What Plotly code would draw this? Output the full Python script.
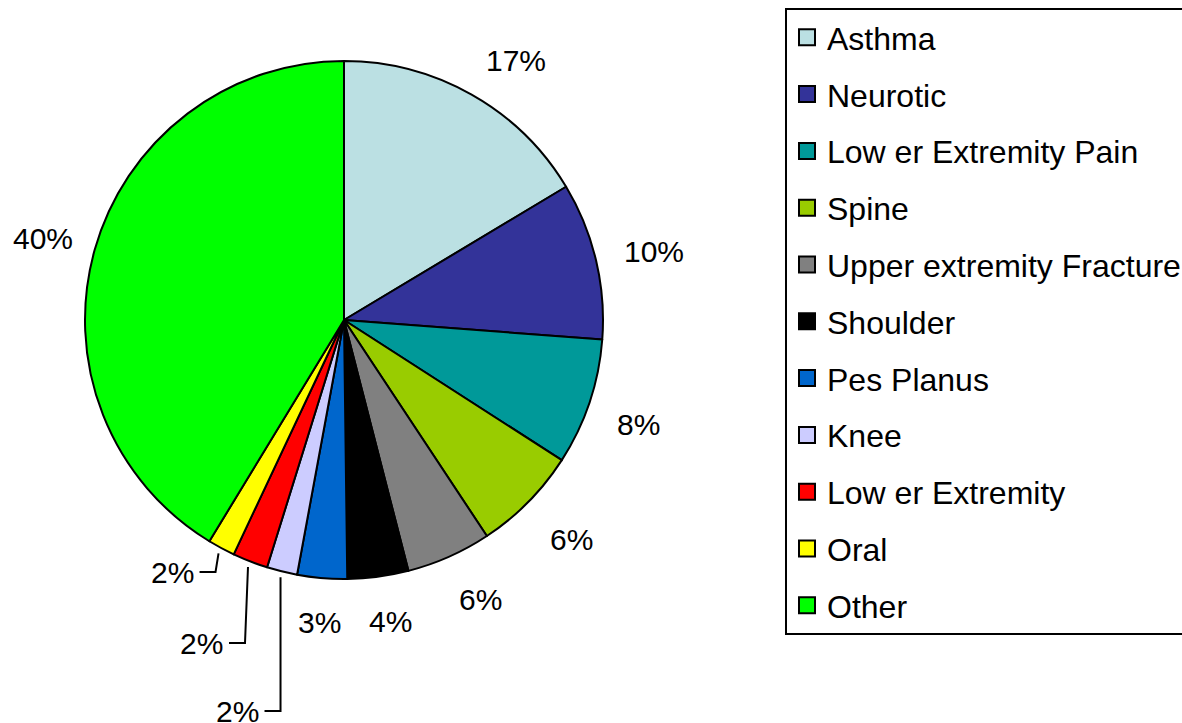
import math
import plotly.graph_objects as go

categories = ["Asthma", "Neurotic", "Low er Extremity Pain", "Spine",
              "Upper extremity Fracture", "Shoulder", "Pes Planus", "Knee",
              "Low er Extremity", "Oral", "Other"]
shares = [16.4, 9.8, 7.9, 6.6, 5.3, 3.8, 3.1, 1.9, 2.2, 1.7, 41.3]
pct_labels = ["17%", "10%", "8%", "6%", "6%", "4%", "3%", "2%", "2%", "2%", "40%"]
colors = ["#BBE0E3", "#333399", "#009999", "#99CC00", "#808080", "#000000",
          "#0066CC", "#CCCCFF", "#FF0000", "#FFFF00", "#00FF00"]

FONT = "Liberation Sans, Arial, sans-serif"
LABEL_SIZE = 30
OFF = 0                      # page body margin (removed by post_script)
W, H = 1240, 723             # figure size (legend runs past the right edge, as in the original)


def px(sx):
    return (sx - OFF) / W


def py(sy):
    return 1 - (sy - OFF) / H


cx, cy, r = 344, 320, 259   # pie centre / radius (screen px)

fig = go.Figure()
fig.add_trace(go.Pie(
    labels=categories, values=shares,
    textinfo="none",
    sort=False, direction="clockwise", rotation=0,
    marker=dict(colors=colors, line=dict(color="black", width=2)),
    domain=dict(x=[px(cx - r), px(cx + r)], y=[py(cy + r), py(cy - r)]),
    showlegend=False, hoverinfo="label+percent",
))

# percentage labels placed outside each slice at its mid-angle
leaders = {7: (391, 0), 8: (323, -3), 9: (252, -3)}  # drop below centre, slant
total = sum(shares)
cum = 0.0
annotations, shapes = [], []
lab_font = dict(family=FONT, size=LABEL_SIZE, color="black")
for i, (v, lab) in enumerate(zip(shares, pct_labels)):
    mid = (cum + v / 2) / total * 2 * math.pi
    cum += v
    s, c = math.sin(mid), -math.cos(mid)
    if i in leaders:
        drop, slant = leaders[i]
        x0, y0 = cx + (r + 6) * s, cy + (r + 6) * c
        x1, y1 = x0 + slant, cy + drop
        x2 = x1 - 16
        path = f"M {px(x0)} {py(y0)} L {px(x1)} {py(y1)} L {px(x2)} {py(y1)}"
        shapes.append(dict(type="path", path=path, xref="paper", yref="paper",
                           line=dict(color="black", width=2)))
        annotations.append(dict(x=px(x2 - 4), y=py(y1), xref="paper", yref="paper",
                                text=lab, showarrow=False, xanchor="right", yanchor="middle",
                                font=lab_font))
    else:
        w = LABEL_SIZE * (0.5 * len(lab) + 0.45)
        h = LABEL_SIZE
        d = r + 26
        ax = cx + d * s + (w / 2) * max(-1, min(1, 2 * s)) + 3
        ay = cy + d * c + (h / 2) * max(-1, min(1, 2 * c)) + 4
        annotations.append(dict(x=px(ax), y=py(ay), xref="paper", yref="paper",
                                text=lab, showarrow=False, xanchor="center", yanchor="middle",
                                font=lab_font))

# legend entries (one per category, each in its own group for spacing)
for name, col in zip(categories, colors):
    fig.add_trace(go.Scatter(
        x=[None], y=[None], mode="markers", name=name, legendgroup=name,
        marker=dict(symbol="square", size=16, color=col, line=dict(color="black", width=2)),
        showlegend=True, hoverinfo="skip",
    ))

fig.update_layout(
    width=W, height=H,
    paper_bgcolor="white", plot_bgcolor="white",
    margin=dict(l=0, r=0, t=0, b=0, autoexpand=False),
    xaxis=dict(visible=False), yaxis=dict(visible=False),
    annotations=annotations, shapes=shapes,
    legend=dict(
        x=px(785), y=py(8), xanchor="left", yanchor="top",
        bgcolor="white", bordercolor="black", borderwidth=2,
        font=dict(family=FONT, size=32, color="black"),
        tracegroupgap=12.2, maxheight=2000, itemsizing="trace",
    ),
    font=dict(family=FONT),
)

fig.write_html(
    "out.html",
    config={"displayModeBar": False},
    post_script="document.body.style.margin='0px';"
                "document.body.style.overflow='hidden';"
                "document.documentElement.style.overflow='hidden';",
)
